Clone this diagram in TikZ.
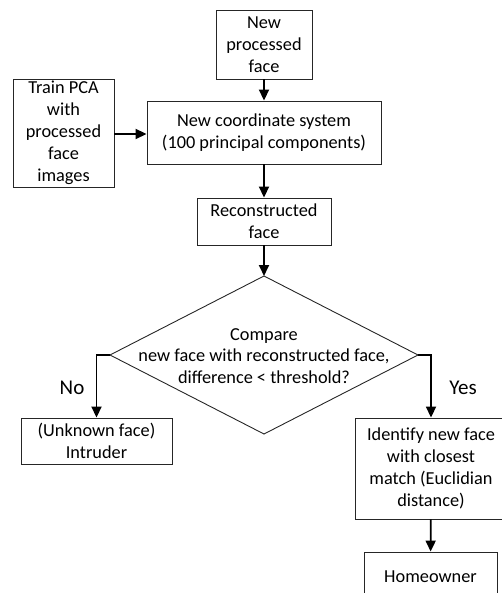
\documentclass[tikz,border=0pt]{standalone}
\usepackage{fontspec}
\setmainfont{Carlito}
\usetikzlibrary{arrows.meta}
\begin{document}
\begin{tikzpicture}[x=1pt,y=-1pt,
  box/.style={draw=black!85, line width=0.9pt, align=center, inner sep=0pt, font=\fontsize{18.3}{22}\selectfont},
  txt/.style={align=center, inner sep=0pt, font=\fontsize{18.3}{21.5}\selectfont},
  arr/.style={line width=1.8pt, -{Triangle[width=10pt,length=11pt]}},
  lbl/.style={inner sep=0pt, font=\fontsize{21}{24}\selectfont}]
\useasboundingbox (0,0) rectangle (502,593);
\node[box, minimum width=96pt, minimum height=69pt] (new) at (264,44.5) {New\\processed\\face};
\node[box, minimum width=234pt, minimum height=63pt] (coord) at (264,132.5) {New coordinate system\\(100 principal components)};
\node[box, minimum width=101pt, minimum height=108pt] (train) at (63.5,133) {Train PCA\\with\\processed\\face\\images};
\node[box, minimum width=134pt, minimum height=47pt] (recon) at (264,221.5) {Reconstructed\\face};
\coordinate (dt) at (264,276);
\coordinate (dl) at (110,355);
\coordinate (dr) at (418,355);
\coordinate (db) at (264,434);
\draw[black!85, line width=0.9pt] (dt) -- (dr) -- (db) -- (dl) -- cycle;
\node[txt] (cmp) at (264,356) {Compare\\new face with reconstructed face,\\difference < threshold?};
\node[box, minimum width=151pt, minimum height=46pt] (intr) at (96.5,441) {(Unknown face)\\Intruder};
\node[box, minimum width=152pt, minimum height=101pt] (ident) at (431,468.5) {Identify new face\\with closest\\match (Euclidian\\distance)};
\node[box, minimum width=133pt, minimum height=50pt] (home) at (430.5,577) {Homeowner};
\node[lbl] (no) at (72,388) {No};
\node[lbl] (yes) at (463,388) {Yes};
\draw[arr] (new) -- (coord);
\draw[arr] (train.east |- 0,134) -- (coord.west |- 0,134);
\draw[arr] (coord) -- (recon);
\draw[arr] (recon) -- (dt);
\draw[arr] (dl) -| (intr.north);
\draw[arr] (dr) -| (ident.north);
\draw[arr] (ident) -- (home);
\end{tikzpicture}
\end{document}
